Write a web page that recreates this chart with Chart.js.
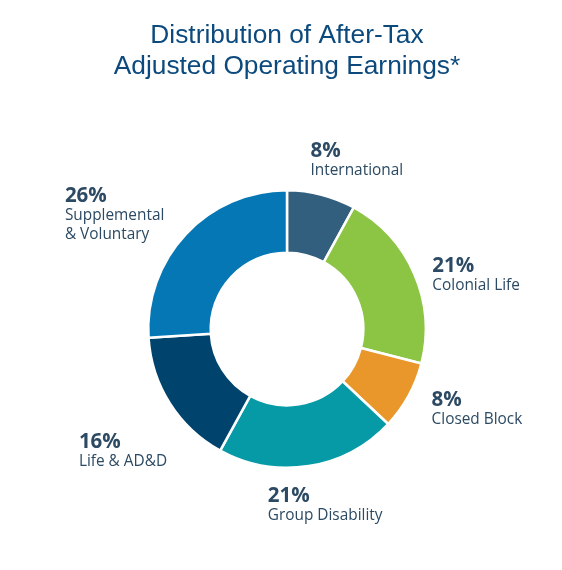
<!DOCTYPE html>
<html>
<head>
<meta charset="utf-8">
<script src="https://cdn.jsdelivr.net/npm/chart.js@4.4.1/dist/chart.umd.min.js"></script>
<style>
  html, body { margin: 0; padding: 0; background: #fff; }
  #wrap { width: 562px; height: 570px; }
</style>
</head>
<body>
<div id="wrap"><canvas id="earningsChart" width="562" height="570"></canvas></div>
<script>
const segments = ["International", "Colonial Life", "Closed Block", "Group Disability", "Life & AD&D", "Supplemental & Voluntary"];
const nameLines = [["International"], ["Colonial Life"], ["Closed Block"], ["Group Disability"], ["Life & AD&D"], ["Supplemental", "& Voluntary"]];
const shares = [8, 21, 8, 21, 16, 26];
const colors = ["#325f7d", "#8cc443", "#e9972a", "#059aa6", "#00446d", "#0677b5"];

// label placement relative to the arc's outer mid point (dx, dy of the percent baseline)
const labelOffsets = [[-11, -38], [18, -2], [23, 10], [-41, 36], [-91, 45], [-121, -32]];

const outerLabels = {
  id: "outerLabels",
  afterDatasetsDraw(chart) {
    const ctx = chart.ctx;
    const arcs = chart.getDatasetMeta(0).data;
    ctx.save();
    ctx.textAlign = "left";
    ctx.textBaseline = "alphabetic";
    ctx.fillStyle = "#2c4a63";
    arcs.forEach((arc, i) => {
      const p = arc.getProps(["x", "y", "startAngle", "endAngle", "outerRadius"], true);
      const mid = (p.startAngle + p.endAngle) / 2;
      const ax = p.x + Math.cos(mid) * p.outerRadius + labelOffsets[i][0];
      const ay = p.y + Math.sin(mid) * p.outerRadius + labelOffsets[i][1];
      ctx.font = "bold 20.5px 'Open Sans'";
      ctx.fillText(shares[i] + "%", ax, ay);
      ctx.font = "15.4px 'Open Sans'";
      nameLines[i].forEach((line, j) => {
        ctx.fillText(line, ax, ay + 18 + j * 18.5);
      });
    });
    ctx.restore();
  }
};

new Chart(document.getElementById("earningsChart"), {
  type: "doughnut",
  data: {
    labels: segments,
    datasets: [{
      data: shares,
      backgroundColor: colors,
      borderColor: "#ffffff",
      borderWidth: 2.5,
      hoverOffset: 0
    }]
  },
  options: {
    responsive: false,
    animation: false,
    cutout: "55%",
    layout: { padding: { left: 12, right: 0, top: 0, bottom: 101 } },
    plugins: {
      legend: { display: false },
      tooltip: { enabled: false },
      title: {
        display: true,
        text: ["Distribution of After-Tax", "Adjusted Operating Earnings*"],
        color: "#0c4a7e",
        font: { family: "'Liberation Sans', Arial, sans-serif", size: 26.3, weight: "normal", lineHeight: 1.18 },
        padding: { top: 20, bottom: 107 }
      }
    }
  },
  plugins: [outerLabels]
});
</script>
</body>
</html>
